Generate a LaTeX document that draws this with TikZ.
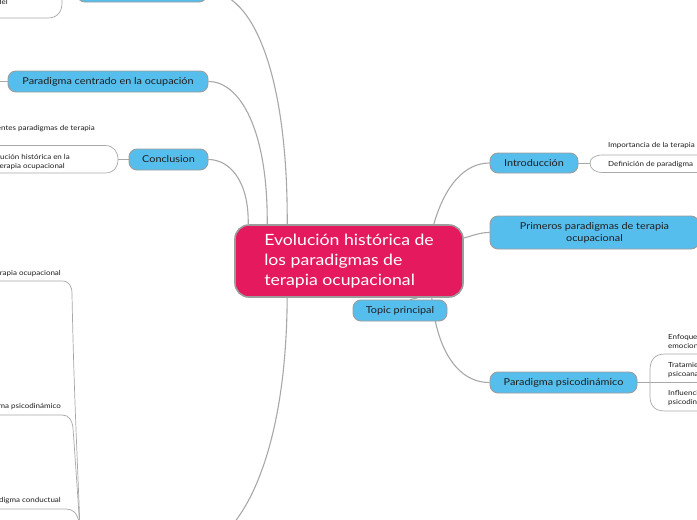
\documentclass[tikz,border=0pt]{standalone}
\usepackage{fontspec}
\setmainfont{Lato}[FakeStretch=1.14]
\usetikzlibrary{backgrounds}
\definecolor{mmblue}{HTML}{56BEEC}
\definecolor{mmpink}{HTML}{E5195E}
\definecolor{mmline}{HTML}{A8A8A8}
\definecolor{mmborder}{HTML}{9C9C9C}
\definecolor{mmtext}{HTML}{1E1E1E}
\tikzset{
  branch/.style={rectangle, rounded corners=8pt, fill=mmblue, draw=mmborder, line width=0.9pt,
    inner sep=0pt, font=\fontsize{9.5}{12}\selectfont, text=mmtext, align=center},
  central/.style={rectangle, rounded corners=14pt, fill=mmpink, draw=mmborder, line width=1.6pt,
    inner sep=0pt, font=\fontsize{15.5}{20}\selectfont, text=white, align=left},
  conn/.style={draw=mmline, line width=1.1pt},
  sub/.style={draw=mmline, line width=0.7pt},
  leaf/.style={font=\fontsize{7}{9}\selectfont, text=mmtext, inner sep=0pt, align=left}
}
\begin{document}
\begin{tikzpicture}[x=1pt,y=-1pt]
\useasboundingbox (0,0) rectangle (697,520);
% nodes
\node[central, minimum width=228pt, minimum height=72pt] (c) at (349,261)
  {Evolución histórica de\\los paradigmas de\\terapia ocupacional};
\node[branch, minimum width=94pt, minimum height=21pt] (tp) at (400,310.5) {Topic principal};
\node[branch, minimum width=88pt, minimum height=20pt] (intro) at (534,163) {Introducción};
\node[branch, minimum width=209pt, minimum height=33pt] (prim) at (594.5,232.5)
  {Primeros paradigmas de terapia\\ocupacional};
\node[branch, minimum width=147pt, minimum height=21pt] (psico) at (563.5,382.5) {Paradigma psicodinámico};
\node[branch, minimum width=200pt, minimum height=21pt] (pco) at (108,81.5) {Paradigma centrado en la ocupación};
\node[branch, minimum width=79pt, minimum height=21pt] (concl) at (168.5,159.5) {Conclusion};
\node[branch, minimum width=130pt, minimum height=21pt] (top) at (142,-8.5) {};
\coordinate (bl) at (215,540);
% leaves
\node[leaf, anchor=west] (i1) at (608,146) {Importancia de la terapia};
\node[leaf, anchor=west] (i2) at (608,165) {Definición de paradigma};
\node[leaf, anchor=north west] (p1) at (668,334) {Enfoque en los aspectos\\emocionales};
\node[leaf, anchor=north west] (p2) at (668,362) {Tratamiento\\psicoanalítico};
\node[leaf, anchor=north west] (p3) at (668,390) {Influencia del\\psicodinámico};
\node[leaf, anchor=east] (c1) at (95,129) {Comparación entre diferentes paradigmas de terapia};
\node[leaf, anchor=east] (c2) at (70,157) {Evolución histórica en la};
\node[leaf, anchor=east] (c3) at (65,167) {terapia ocupacional};
\node[leaf, anchor=east] (t1) at (8,3) {Importancia del};
\node[leaf, anchor=east] (b1) at (61,274) {Contexto histórico de la terapia ocupacional};
\node[leaf, anchor=east] (b2) at (61,407) {Paradigma psicodinámico};
\node[leaf, anchor=east] (b3) at (61,501) {Paradigma conductual};
\begin{pgfonlayer}{background}
\fill[white] (0,0) rectangle (697,520);
% main connectors
\draw[conn] (top.east) .. controls (255,-8.5) and (288,80) .. ([xshift=53pt]c.north west);
\draw[conn] (pco.east) .. controls (240,81.5) and (268,130) .. ([xshift=33pt]c.north west);
\draw[conn] (concl.east) .. controls (229,159.5) and (249,180) .. ([xshift=14pt]c.north west);
\draw[conn] ([xshift=-30pt]c.north east) .. controls (445,185) and (465,163) .. (intro.west);
\draw[conn] ([yshift=23pt]c.east) .. controls (475,235) and (480,232.5) .. (prim.west);
\draw[conn] ([xshift=-32pt]c.south east) .. controls (436,345) and (455,382.5) .. (psico.west);
\draw[conn] ([xshift=53pt]c.south west) .. controls (286,470) and (235,530) .. (bl);
\draw[conn] ([xshift=-46pt]c.south east) -- ([xshift=10pt]tp.north);
% sub brackets
\draw[sub] (intro.east) -- (590,163);
\draw[sub] (700,155) -- (603,155) .. controls (595,155) and (590,158) .. (590,163)
  .. controls (590,169) and (595,172.5) .. (603,172.5) -- (700,172.5);
\draw[sub] (psico.east) -- (700,382.5);
\draw[sub] (700,354) -- (665,354) .. controls (654,354) and (650,361) .. (650,370) -- (650,396)
  .. controls (650,405) and (654,411) .. (665,411) -- (700,411);
\draw[sub] (concl.west) -- (118,159.5);
\draw[sub] (-5,145.5) -- (105,145.5) .. controls (114,145.5) and (118,152) .. (118,159.5)
  .. controls (118,167) and (114,173) .. (105,173) -- (-5,173);
\draw[sub] (pco.west) -- (-5,81.5);
\draw[sub] (-5,18) -- (48,18) .. controls (57,18) and (62,12) .. (62,3) -- (62,-10);
\draw[sub] (-5,281) -- (62,281) .. controls (69,281) and (72,286) .. (72,294)
  .. controls (74,400) and (78,470) .. (80,530);
\draw[sub] (-5,415) -- (62,415) .. controls (69,415) and (72,420) .. (73,428)
  .. controls (76,470) and (78,500) .. (80,530);
\draw[sub] (-5,509) -- (66,509) .. controls (73,509) and (77,513) .. (79,522) -- (80,530);
\end{pgfonlayer}
\end{tikzpicture}
\end{document}
